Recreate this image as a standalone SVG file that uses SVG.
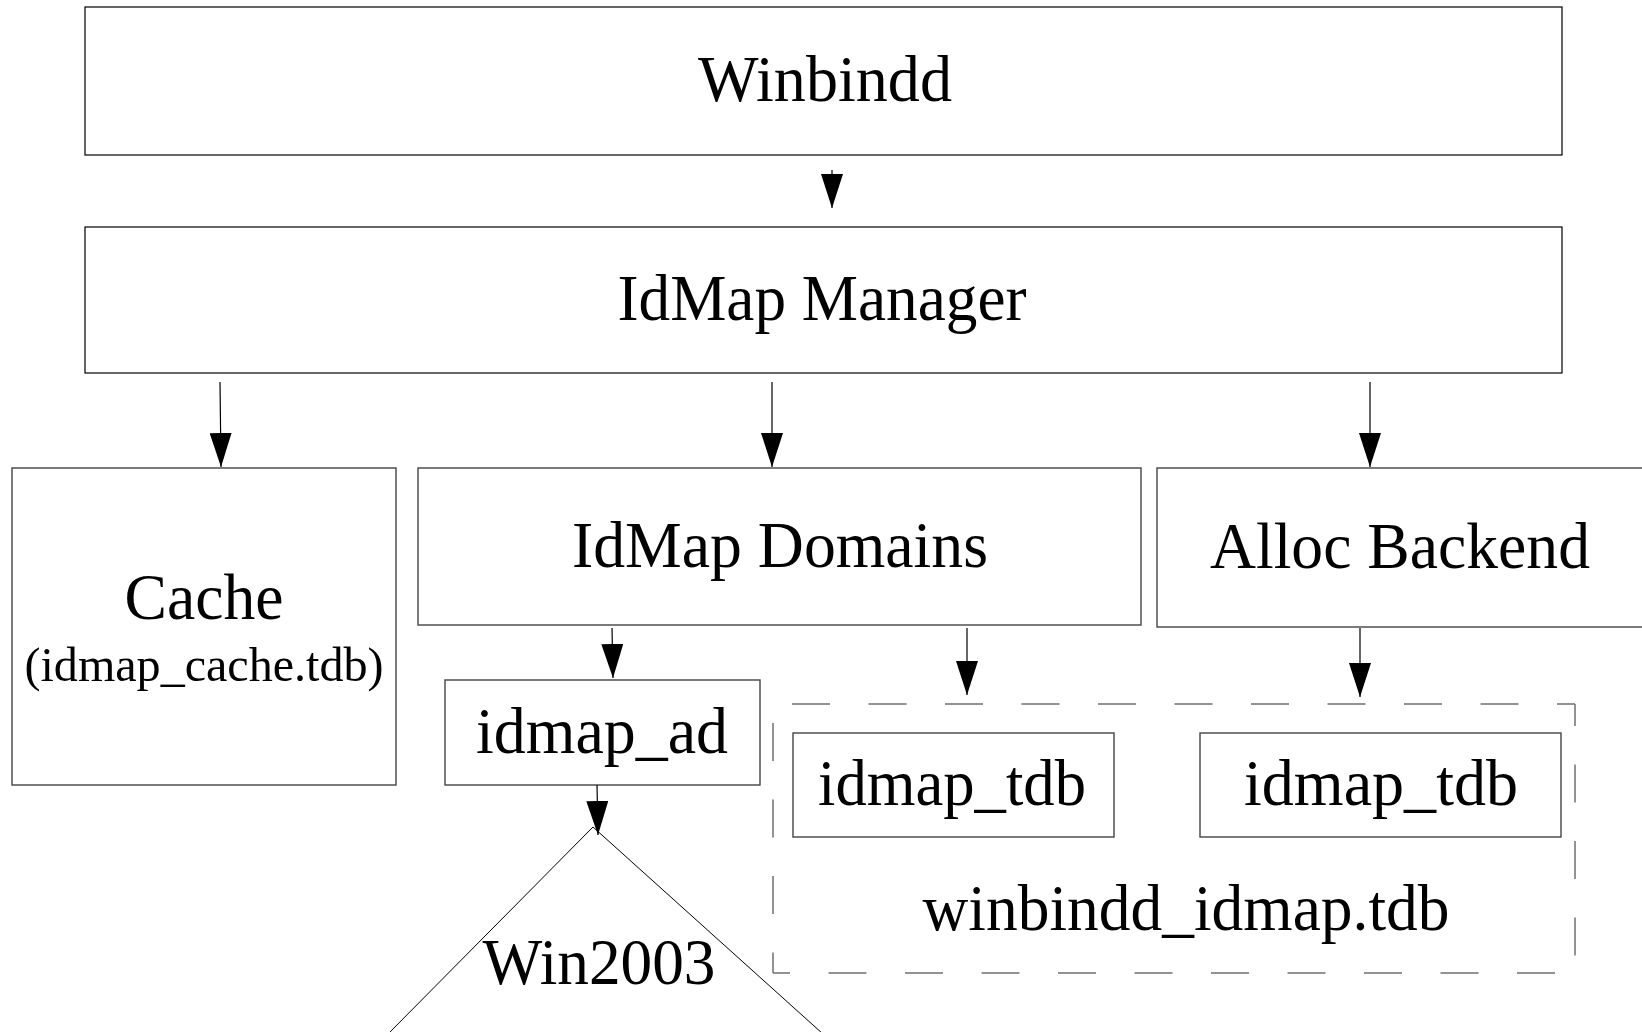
<svg xmlns="http://www.w3.org/2000/svg" width="1642" height="1032" viewBox="0 0 1642 1032">
<style>
.box{fill:#fff;stroke:#000;stroke-width:1.2}
.box2{fill:#fff;stroke:#444;stroke-width:1.4}
.dash{fill:none;stroke:#707070;stroke-width:1.5;stroke-dasharray:38 38.5}
.t{font-family:"Liberation Serif","Times New Roman",serif;font-size:66px;fill:#000;text-anchor:middle}
.ts{font-family:"Liberation Serif","Times New Roman",serif;font-size:49px;fill:#000;text-anchor:middle}
.conn{stroke:#000;stroke-width:1.2;fill:none}
.tri{stroke:#000;stroke-width:1;fill:none}
</style>
<defs>
<marker id="ah" markerUnits="userSpaceOnUse" markerWidth="34" markerHeight="22" refX="34" refY="11" orient="auto" viewBox="0 0 34 22">
<path d="M0,0 L34,11 L0,22 z" fill="#000"/>
</marker>
</defs>
<rect width="1642" height="1032" fill="#fff"/>

<g id="winbindd">
<rect class="box" x="85" y="7" width="1477" height="148"/>
<text class="t" x="825" y="101" textLength="254" lengthAdjust="spacingAndGlyphs">Winbindd</text>
</g>
<g id="idmap-manager">
<rect class="box" x="85" y="227" width="1477" height="146"/>
<text class="t" x="822" y="320" textLength="409" lengthAdjust="spacingAndGlyphs">IdMap Manager</text>
</g>
<g id="cache">
<rect class="box2" x="12" y="468" width="384" height="317"/>
<text class="t" x="204" y="619" textLength="159" lengthAdjust="spacingAndGlyphs">Cache</text>
<text class="ts" x="204" y="681" textLength="359" lengthAdjust="spacingAndGlyphs">(idmap_cache.tdb)</text>
</g>
<g id="idmap-domains">
<rect class="box2" x="418" y="468" width="723" height="157"/>
<text class="t" x="780" y="567" textLength="416" lengthAdjust="spacingAndGlyphs">IdMap Domains</text>
</g>
<g id="alloc-backend">
<rect class="box2" x="1157" y="468" width="495" height="159"/>
<text class="t" x="1400" y="568" textLength="380" lengthAdjust="spacingAndGlyphs">Alloc Backend</text>
</g>
<g id="idmap-ad">
<rect class="box2" x="445" y="680" width="315" height="105"/>
<text class="t" x="602" y="753" textLength="252" lengthAdjust="spacingAndGlyphs">idmap_ad</text>
</g>
<g id="winbindd-idmap-tdb">
<line class="dash" x1="773" y1="704" x2="1575" y2="704" style="stroke-dashoffset:57.5"/>
<line class="dash" x1="773" y1="704" x2="773" y2="973" style="stroke-dashoffset:57.5"/>
<line class="dash" x1="1575" y1="704" x2="1575" y2="973" style="stroke-dashoffset:16"/>
<line class="dash" x1="773" y1="973" x2="1575" y2="973" style="stroke-dashoffset:21"/>
<text class="t" x="1186" y="930" textLength="527" lengthAdjust="spacingAndGlyphs">winbindd_idmap.tdb</text>
</g>
<g id="idmap-tdb-1">
<rect class="box2" x="793" y="733" width="321" height="104"/>
<text class="t" x="952" y="805" textLength="268" lengthAdjust="spacingAndGlyphs">idmap_tdb</text>
</g>
<g id="idmap-tdb-2">
<rect class="box2" x="1200" y="733" width="361" height="104"/>
<text class="t" x="1381" y="805" textLength="274" lengthAdjust="spacingAndGlyphs">idmap_tdb</text>
</g>
<g id="win2003">
<polyline class="tri" points="388,1034 593,827 823,1034"/>
<text class="t" x="599" y="984" textLength="233" lengthAdjust="spacingAndGlyphs">Win2003</text>
</g>

<g id="connectors">
<line class="conn" x1="832" y1="170" x2="832" y2="208" marker-end="url(#ah)"/>
<line class="conn" x1="220" y1="382" x2="221" y2="467" marker-end="url(#ah)"/>
<line class="conn" x1="772" y1="382" x2="772" y2="467" marker-end="url(#ah)"/>
<line class="conn" x1="1370" y1="382" x2="1370" y2="467" marker-end="url(#ah)"/>
<line class="conn" x1="612" y1="628" x2="613" y2="678" marker-end="url(#ah)"/>
<line class="conn" x1="967" y1="628" x2="967" y2="695" marker-end="url(#ah)"/>
<line class="conn" x1="1360" y1="628" x2="1360" y2="697" marker-end="url(#ah)"/>
<line class="conn" x1="597" y1="785" x2="598" y2="835" marker-end="url(#ah)"/>
</g>
</svg>
